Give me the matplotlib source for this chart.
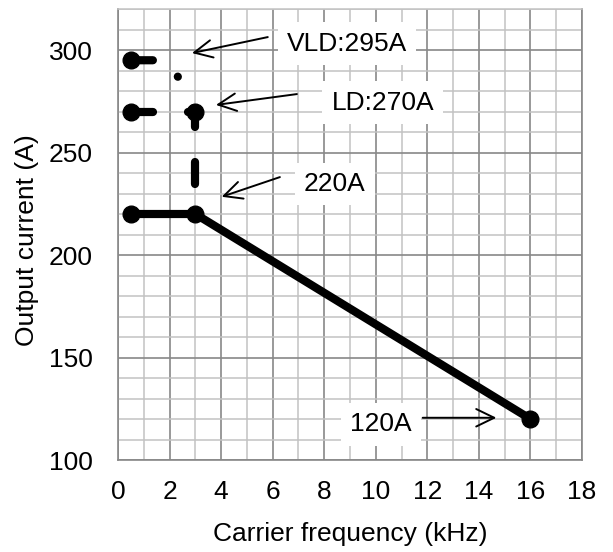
import matplotlib
matplotlib.use("Agg")
import matplotlib.pyplot as plt

plt.rcParams['font.family'] = ['Liberation Sans', 'DejaVu Sans']
plt.rcParams['lines.scale_dashes'] = False

# Data
freq_std = [0.5, 3, 16]
cur_std = [220, 220, 120]
freq_ld = [0.5, 3, 3]
cur_ld = [270, 270, 220]
freq_vld = [0.5, 2, 3]
cur_vld = [295, 295, 270]

x_ticks = [0, 2, 4, 6, 8, 10, 12, 14, 16, 18]
y_ticks = [100, 150, 200, 250, 300]

labels = ["VLD:295A", "LD:270A", "220A", "120A"]
label_pos = [(8.88, 303.1), (10.27, 274.3), (8.41, 234.6), (10.19, 117.4)]
arrow_tails = [(5.81, 306.3), (6.94, 278.5), (6.28, 238.0), (11.82, 120.6)]
arrow_heads = [(2.87, 298.5), (3.80, 273.2), (4.02, 228.4), (14.68, 120.6)]

fig = plt.figure(figsize=(6.13, 5.52), dpi=100)
ax = fig.add_axes([118 / 613, 92 / 552, 464 / 613, 451 / 552])

ax.set_xlim(0, 18)
ax.set_ylim(100, 320)
ax.set_xticks(x_ticks)
ax.set_xticks(range(0, 19, 1), minor=True)
ax.set_yticks(y_ticks)
ax.set_yticks(range(100, 321, 10), minor=True)
ax.tick_params(which='both', length=0)
ax.tick_params(axis='x', pad=14.4, labelsize=19)
ax.tick_params(axis='y', pad=18, labelsize=19)

major_c = '#888888'
minor_c = '#c2c2c2'
ax.grid(which='major', color=major_c, lw=1.2)
ax.grid(which='minor', color=minor_c, lw=1.1)
ax.set_axisbelow(True)
for s in ['left', 'bottom', 'right']:
    ax.spines[s].set_color(major_c)
    ax.spines[s].set_linewidth(1.2)
ax.spines['top'].set_color(minor_c)
ax.spines['top'].set_linewidth(1.1)

lw = 5.9
ms = 12
px = 0.72  # points per pixel at 100 dpi

ax.plot(freq_std, cur_std, color='black', lw=lw, marker='o', ms=ms,
        solid_capstyle='round', zorder=3)
ax.plot(freq_ld, cur_ld, color='black', lw=lw, marker='o', ms=ms,
        markevery=[0, 1], dash_capstyle='round',
        linestyle=(0, (22 * px, 35 * px)), zorder=3)
ax.plot(freq_vld, cur_vld, color='black', lw=lw, marker='o', ms=ms,
        markevery=[0], dash_capstyle='round',
        linestyle=(0, (22 * px, 35 * px, 0.1, 35 * px)), zorder=3)

for txt, pos, tail, head in zip(labels, label_pos, arrow_tails, arrow_heads):
    ax.text(pos[0], pos[1], txt, ha='center', va='center', fontsize=19,
            bbox=dict(boxstyle='square,pad=0.35', fc='white', ec='none'),
            zorder=4)
    ax.annotate('', xy=head, xytext=tail, textcoords='data',
                arrowprops=dict(arrowstyle='->,head_length=0.74,head_width=0.36',
                                mutation_scale=17.5, color='black', lw=1.4,
                                shrinkA=0, shrinkB=0),
                zorder=5)

ax.set_xlabel('Carrier frequency (kHz)', fontsize=19)
ax.set_ylabel('Output current (A)', fontsize=19)
ax.xaxis.label.set_va('center')
ax.yaxis.label.set_va('center')
ax.xaxis.set_label_coords(0.5, -0.165)
ax.yaxis.set_label_coords(-0.197, 0.488)

fig.savefig('out.png', dpi=100, facecolor='white')
